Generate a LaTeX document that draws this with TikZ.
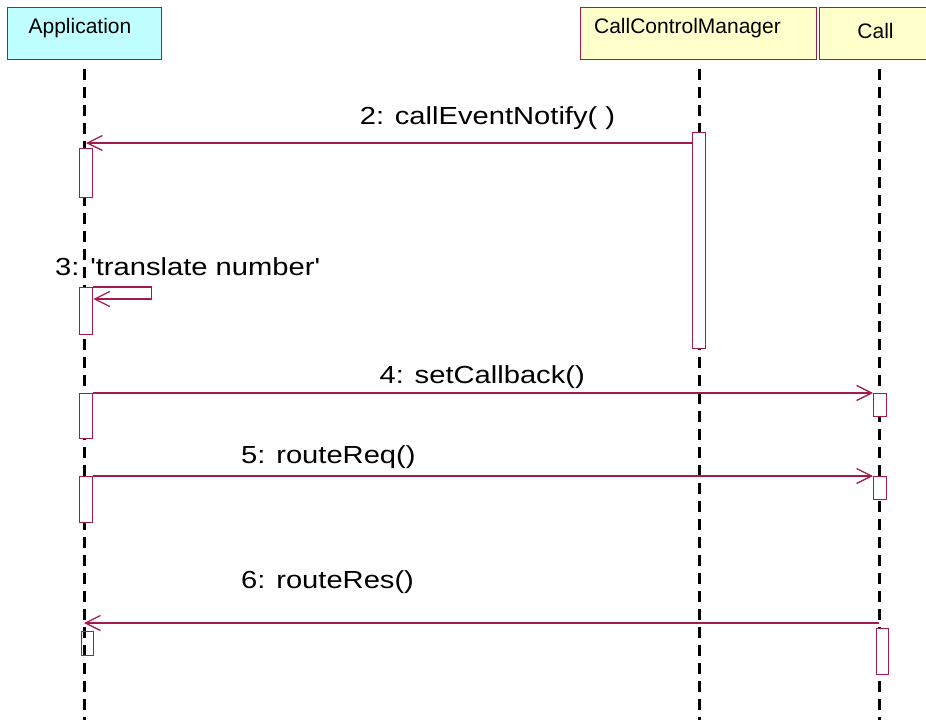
\documentclass[tikz,border=0pt]{standalone}
\usepackage{fontspec}
\setmainfont{Liberation Sans}
\newfontfamily\lblfont[FakeStretch=1.18]{Liberation Sans}
\usetikzlibrary{arrows.meta}
\definecolor{umlred}{RGB}{165,25,75}
\definecolor{appcyan}{RGB}{191,255,255}
\definecolor{objyellow}{RGB}{255,255,204}
\begin{document}
\begin{tikzpicture}[x=1pt,y=-1pt,
  hdrbox/.style={draw=umlred, line width=1.2pt, inner sep=0pt, anchor=north west, minimum height=52pt},
  hdrtxt/.style={font=\fontsize{21}{25}\selectfont, inner sep=0pt, anchor=base},
  lifeline/.style={line width=3pt, dash pattern=on 11pt off 7pt},
  act/.style={draw=umlred, fill=white, line width=1.3pt, inner sep=0pt, anchor=north west, minimum width=13pt},
  msg/.style={draw=umlred, line width=1.3pt, -{Straight Barb[length=15pt,width=15pt,line width=1.3pt]}},
  lbl/.style={font=\lblfont\fontsize{24.7}{29}\selectfont, inner sep=0pt}]
\useasboundingbox (0,0) rectangle (926,720);
\begin{scope}
\clip (0,0) rectangle (926,720);
% headers
\node[hdrbox, fill=appcyan, minimum width=154pt] (apphdr) at (7,7) {};
\node[hdrtxt] (apptxt) at (80,33) {Application};
\node[hdrbox, fill=objyellow, minimum width=236pt] (ccmhdr) at (580,7) {};
\node[hdrtxt] (ccmtxt) at (687.5,33) {CallControlManager};
\node[hdrbox, fill=objyellow, minimum width=130pt] (callhdr) at (819,7) {};
\node[hdrtxt] (calltxt) at (875.5,38) {Call};
% lifelines
\coordinate (appTop) at (84,69);  \coordinate (appBot) at (84,720);
\coordinate (ccmTop) at (699,69); \coordinate (ccmBot) at (699,720);
\coordinate (callTop) at (879,69); \coordinate (callBot) at (879,720);
\draw[lifeline] (appTop) -- (appBot);
\draw[lifeline] (ccmTop) -- (ccmBot);
\draw[lifeline] (callTop) -- (callBot);
% activations
\node[act, minimum height=216pt] (ccmact) at (692,132) {};
\node[act, minimum height=49pt] (a1) at (79,148) {};
\node[act, minimum height=47pt] (a2) at (79,287) {};
\node[act, minimum height=45pt] (a3) at (79,393) {};
\node[act, minimum height=46pt] (a4) at (79,476) {};
\node[act, fill=none, minimum width=12pt, minimum height=24pt] (a5) at (81,631) {};
\node[act, minimum height=23pt] (c1) at (873,393) {};
\node[act, minimum height=23pt] (c2) at (873,476) {};
\node[act, minimum width=12pt, minimum height=46pt] (c3) at (876,628) {};
% messages
\coordinate (m2end) at (86,143);
\draw[msg] ([yshift=-11pt]ccmact.north west) -- (m2end);
\node[lbl, anchor=base] (l2) at (487.5,124) {2: callEventNotify( )};
\draw[msg] (a2.north east) -- ++(58,0) -- ++(0,12) -- ([yshift=-12pt]a2.north east);
\node[lbl, anchor=base west] (l3) at (55,275) {3: 'translate number'};
\draw[msg] (a3.north east) -- (c1.north west);
\node[lbl, anchor=base east] (l4) at (585,383) {4: setCallback()};
\draw[msg] (a4.north east) -- (c2.north west);
\node[lbl, anchor=base west] (l5) at (241,463) {5: routeReq()};
\coordinate (m6start) at (879,623);
\coordinate (m6end) at (84,623);
\draw[msg] (m6start) -- (m6end);
\node[lbl, anchor=base west] (l6) at (241,588) {6: routeRes()};
\end{scope}
\end{tikzpicture}
\end{document}
